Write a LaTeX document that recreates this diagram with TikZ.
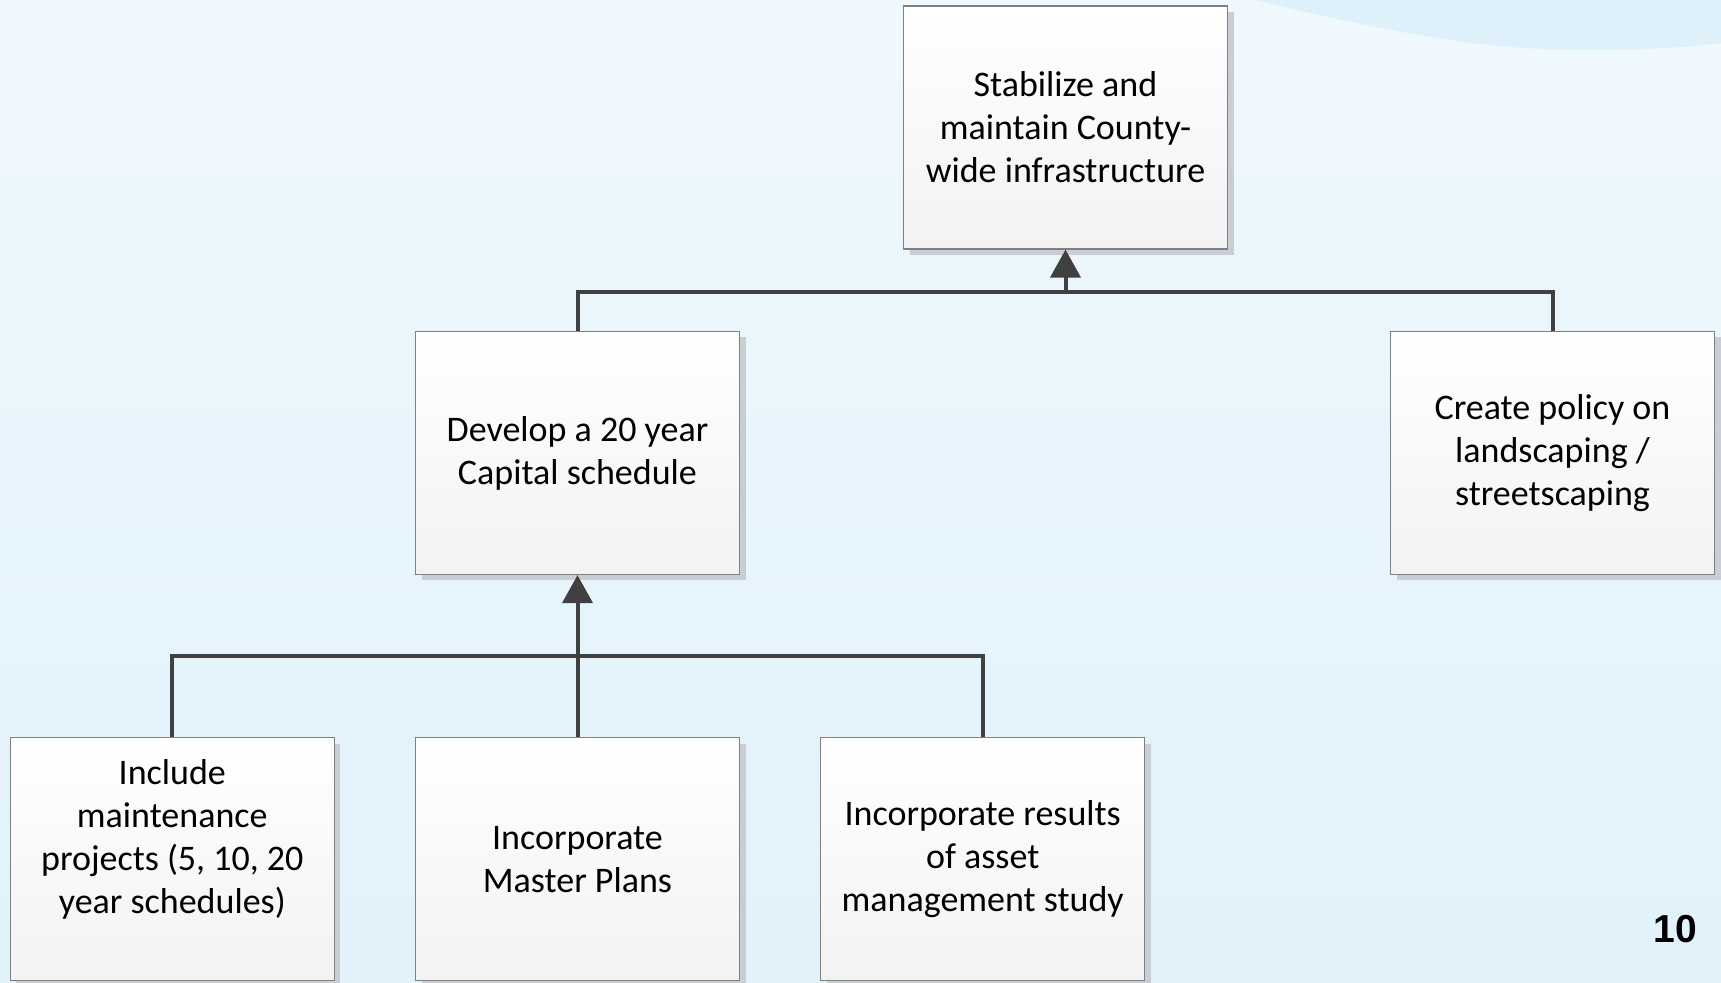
\documentclass[tikz,border=0pt]{standalone}
\usepackage{fontspec}
\setmainfont{Carlito}
\newfontfamily\numfont{Liberation Sans}
\usetikzlibrary{arrows.meta, positioning, shadows}
\definecolor{bgtop}{RGB}{239,248,253}
\definecolor{bgbottom}{RGB}{225,242,251}
\definecolor{swoosh}{RGB}{222,240,250}
\definecolor{linkgray}{RGB}{64,64,64}
\definecolor{boxedge}{RGB}{128,128,128}
\definecolor{boxshade}{RGB}{200,206,212}
\tikzstyle{box} = [rectangle, minimum width=162pt, minimum height=121.5pt, align=center, draw=boxedge, line width=0.6pt, top color=white, bottom color=gray!10, drop shadow={shadow xshift=3pt, shadow yshift=-3pt, fill=boxshade, opacity=1}, font={\fontsize{18pt}{21.5pt}\selectfont}]
\tikzstyle{link} = [draw=linkgray, line width=2pt]
\tikzstyle{arrow} = [link, -{Triangle[width=15pt, length=14pt]}]

\begin{document}
\begin{tikzpicture}[x=0.5pt, y=-0.5pt, node distance=40pt]

  % background and corner swoosh
  \fill[top color=bgtop, bottom color=bgbottom] (0,0) rectangle (1721,983);
  \fill[swoosh] (1255,0) .. controls (1420,40) and (1500,50) .. (1590,50) .. controls (1650,50) and (1700,46) .. (1721,43) -- (1721,0) -- cycle;
  \useasboundingbox (0,0) rectangle (1721,983);

  \node[box] (goal) at (1065.5,127.5) {Stabilize and\\maintain County-\\wide infrastructure};
  \node[box] (capital) at (577.5,453) {Develop a 20 year\\Capital schedule};
  \node[box] (policy) at (1552.5,453) {Create policy on\\landscaping /\\streetscaping};

  % bottom row under the Capital schedule
  \node[box, below=81pt of capital] (master) {Incorporate\\Master Plans};
  \node[box, left=of master] (maint) {Include\\maintenance\\projects (5, 10, 20\\year schedules)\\[-5.5pt]\strut};
  \node[box, right=of master] (asset) {Incorporate results\\of asset\\management study};

  \coordinate (topjoin) at (1065.5,292);
  \coordinate (botjoin) at (577.5,656);

  % upper tree
  \draw[link] (capital.north) |- (topjoin);
  \draw[link] (policy.north) |- (topjoin);
  \draw[arrow] (topjoin) -- (goal.south);

  % lower tree
  \draw[link] (maint.north) |- (botjoin);
  \draw[link] (asset.north) |- (botjoin);
  \draw[arrow] (master.north) -- (capital.south);

  \node[font={\numfont\fontsize{19.5pt}{22pt}\selectfont\bfseries}] (page) at (1675,929) {10};

\end{tikzpicture}
\end{document}
